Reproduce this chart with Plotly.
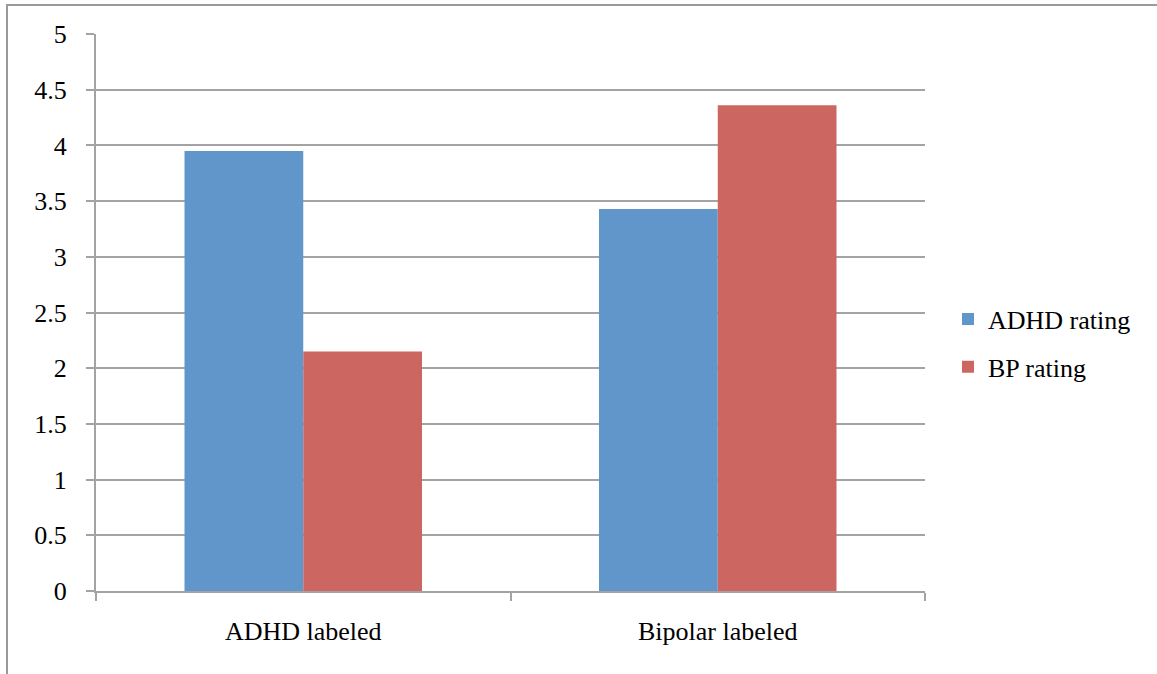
import plotly.graph_objects as go

# Mean ratings by assigned label
categories = ["ADHD labeled", "Bipolar labeled"]
adhd_rating = [3.95, 3.43]
bp_rating = [2.15, 4.36]
y_ticks = [0, 0.5, 1, 1.5, 2, 2.5, 3, 3.5, 4, 4.5, 5]
y_tick_text = ["0", "0.5", "1", "1.5", "2", "2.5", "3", "3.5", "4", "4.5", "5"]

W, H = 1157, 674
ML, MR, MT, MB = 96, 232, 34, 83
PW, PH = W - ML - MR, H - MT - MB

FONT = "Liberation Serif"
GRID = "#A3A3A3"
BLUE = "#6096CA"
RED = "#CC6660"


def px_x(p):
    return (p - ML) / PW


def px_y(p):
    return 1 - (p - MT) / PH


fig = go.Figure()
fig.add_trace(go.Bar(name="ADHD rating", x=categories, y=adhd_rating,
                     legendgroup="a",
                     marker=dict(color=BLUE, line=dict(width=0))))
fig.add_trace(go.Bar(name="BP rating", x=categories, y=bp_rating,
                     legendgroup="b",
                     marker=dict(color=RED, line=dict(width=0))))

fig.update_layout(
    width=W, height=H,
    margin=dict(l=ML, r=MR, t=MT, b=MB),
    paper_bgcolor="white", plot_bgcolor="white",
    barmode="group", bargap=0.427, bargroupgap=0,
    font=dict(family=FONT, size=26, color="#000000"),
    showlegend=True,
    legend=dict(x=px_x(948), y=px_y(343), xanchor="left", yanchor="middle",
                font=dict(family=FONT, size=26, color="#000000"),
                bgcolor="rgba(0,0,0,0)", traceorder="grouped",
                tracegroupgap=11),
    xaxis=dict(
        showgrid=False, showline=True, linecolor=GRID, linewidth=2,
        ticks="outside", ticklen=8, tickwidth=2, tickcolor=GRID,
        tickson="boundaries", ticklabelstandoff=16,
        tickfont=dict(family=FONT, size=26, color="#000000"),
        range=[-0.5, 1.5], zeroline=False,
    ),
    yaxis=dict(
        range=[0, 5], tickvals=y_ticks, ticktext=y_tick_text,
        showgrid=True, gridcolor=GRID, gridwidth=2,
        showline=True, linecolor=GRID, linewidth=2,
        ticks="outside", ticklen=8, tickwidth=2, tickcolor=GRID,
        ticklabelstandoff=14, zeroline=False,
        tickfont=dict(family=FONT, size=26, color="#000000"),
    ),
    shapes=[
        # chart frame: left and top edges
        dict(type="line", xref="paper", yref="paper",
             x0=px_x(7), x1=px_x(7), y0=px_y(5), y1=px_y(H + 10),
             line=dict(color="#9A9A9A", width=2)),
        dict(type="line", xref="paper", yref="paper",
             x0=px_x(6), x1=px_x(W + 10), y0=px_y(5), y1=px_y(5),
             line=dict(color="#9A9A9A", width=2)),
    ],
)

fig.write_html("out.html")
